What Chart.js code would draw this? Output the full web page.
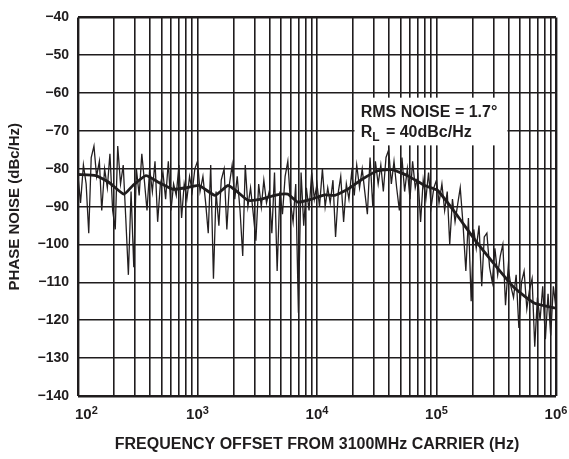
<!DOCTYPE html>
<html>
<head>
<meta charset="utf-8">
<script src="https://cdn.jsdelivr.net/npm/chart.js@4.4.1/dist/chart.umd.min.js"></script>
<style>
  html, body { margin: 0; padding: 0; background: #fff; }
  #wrap { width: 569px; height: 459px; }
</style>
</head>
<body>
<div id="wrap"><canvas id="noiseChart"></canvas></div>
<script>
// sweep points: mantissa within each decade
const sweepMantissa = [1.00, 1.05, 1.11, 1.17, 1.23, 1.29, 1.36, 1.43, 1.51, 1.58, 1.67, 1.76, 1.85, 1.95, 2.05,
  2.15, 2.27, 2.39, 2.51, 2.64, 2.78, 2.93, 3.08, 3.25, 3.42, 3.59, 3.78, 3.98, 4.19, 4.41,
  4.64, 4.89, 5.14, 5.41, 5.70, 6.00, 6.31, 6.64, 6.99, 7.36, 7.74, 8.15, 8.58, 9.03, 9.50];
const sweepDecades = [100, 1000, 10000, 100000];
const sweepEnd = 1000000;

// raw phase noise trace (dBc/Hz), one value per sweep point
const phaseNoise = [
  -82, -89, -79, -84, -97, -77, -74, -82, -78, -91, -80, -85, -76, -91, -96, -74, -84, -79, -93, -108, -86, -106, -80,
  -87, -76, -83, -91, -80, -86, -78, -94, -84, -81, -88, -78, -91, -84, -87, -79, -93, -84, -88, -82, -86, -80,
  -78, -86, -82, -89, -97, -79, -109, -86, -95, -83, -80, -96, -84, -79, -88, -82, -91, -103, -79, -90, -85, -92, -99,
  -84, -90, -83, -89, -86, -97, -81, -107, -86, -92, -82, -78, -89, -94, -84, -118, -81, -95, -85, -91, -81, -88,
  -84, -90, -80, -90, -85, -89, -83, -98, -86, -82, -94, -84, -88, -81, -87, -79, -85, -80, -86, -92, -77, -90, -78,
  -84, -79, -86, -77, -75, -84, -78, -85, -91, -77, -86, -80, -88, -78, -85, -82, -94, -83, -88, -81, -90, -85,
  -83, -89, -84, -91, -86, -100, -88, -94, -89, -85, -95, -107, -93, -115, -96, -101, -95, -111, -98, -97, -106, -110,
  -101, -108, -103, -100, -116, -106, -111, -114, -108, -122, -110, -107, -117, -112, -109, -127, -114, -120, -111,
  -125, -113, -124, -111, -117
];

// averaged trace
const smoothFreq = [100, 141, 182, 242, 288, 370, 475, 622, 800, 1030, 1400, 1800, 2180, 2640, 3450, 4440, 5700,
  6900, 9060, 11600, 14100, 18100, 23700, 32200, 42200, 57400, 79600, 102000, 142000, 209000, 307000, 451000,
  663000, 1000000];
const smoothLevel = [-81.5, -81.8, -83.6, -86.7, -84.4, -81.8, -83.6, -85.4, -85, -84.4, -87, -84.4, -86.2, -88.3,
  -88, -87, -86.7, -88.8, -88, -86.9, -87, -85.4, -82.8, -80.5, -80.2, -81.8, -84.4, -85.7, -91.4, -98.7, -105.3,
  -111.5, -115.5, -116.8];

const decadeTicks = [100, 1000, 10000, 100000, 1000000];
const decadeExponents = ['2', '3', '4', '5', '6'];
const minorSteps = [1, 2, 3, 4, 5, 6, 7, 8, 9];

const noteLines = ['RMS NOISE = 1.7°', '= 40dBc/Hz'];

const ink = '#1f1c1d';
const fontFamily = '"Liberation Sans", Arial, Helvetica, sans-serif';

const sweepFreq = [];
sweepDecades.forEach(d => sweepMantissa.forEach(m => sweepFreq.push(Math.round(m * d))));
sweepFreq.push(sweepEnd);

const gridValues = [];
sweepDecades.forEach(d => minorSteps.forEach(s => gridValues.push(s * d)));
gridValues.push(sweepEnd);

// x decade labels with raised exponent
const decadeLabels = {
  id: 'decadeLabels',
  afterDraw(chart) {
    const { ctx, chartArea, scales: { x } } = chart;
    const baseFont = 'bold 15px ' + fontFamily;
    const expFont = 'bold 11px ' + fontFamily;
    ctx.save();
    ctx.fillStyle = ink;
    decadeTicks.forEach((v, i) => {
      const px = x.getPixelForValue(v);
      ctx.font = baseFont;
      const wb = ctx.measureText('10').width;
      ctx.font = expFont;
      const we = ctx.measureText(decadeExponents[i]).width;
      let left = px - (wb + we) / 2;
      left = Math.max(left, chartArea.left - 3);
      left = Math.min(left, chart.width - wb - we - 1);
      const base = chartArea.bottom + 23;
      ctx.font = baseFont;
      ctx.fillText('10', left, base);
      ctx.font = expFont;
      ctx.fillText(decadeExponents[i], left + wb, base - 5);
    });
    ctx.restore();
  }
};

// white note box over the grid
const noteBox = {
  id: 'noteBox',
  beforeDatasetsDraw(chart) {
    const { ctx, scales: { x, y } } = chart;
    const l = x.getPixelForValue(20000) + 1.5;
    const r = x.getPixelForValue(400000) - 1;
    const t = y.getPixelForValue(-61.2);
    const b = y.getPixelForValue(-73.8);
    ctx.save();
    ctx.fillStyle = '#fff';
    ctx.fillRect(l, t, r - l, b - t);
    ctx.fillStyle = ink;
    ctx.textBaseline = 'alphabetic';
    const tx = x.getPixelForValue(23200);
    ctx.font = 'bold 16px ' + fontFamily;
    ctx.fillText(noteLines[0], tx, y.getPixelForValue(-66.4));
    const base2 = y.getPixelForValue(-71.6);
    ctx.fillText('R', tx, base2);
    const wr = ctx.measureText('R').width;
    ctx.font = 'bold 12px ' + fontFamily;
    ctx.fillText('L', tx + wr, base2 + 4);
    const wl = ctx.measureText('L ').width;
    ctx.font = 'bold 16px ' + fontFamily;
    ctx.fillText(noteLines[1], tx + wr + wl + 3, base2);
    ctx.restore();
  }
};

const edgeWidth = (ctx, a, b) => (ctx.tick && (ctx.tick.value === a || ctx.tick.value === b)) ? 2.4 : 1.6;

new Chart(document.getElementById('noiseChart'), {
  type: 'line',
  data: {
    datasets: [
      {
        label: 'averaged',
        data: smoothFreq.map((f, i) => ({ x: f, y: smoothLevel[i] })),
        borderColor: ink,
        borderWidth: 2.8,
        pointRadius: 0,
        tension: 0.15,
        order: 0
      },
      {
        label: 'raw',
        data: sweepFreq.map((f, i) => ({ x: f, y: phaseNoise[i] })),
        borderColor: '#231f20',
        borderWidth: 1.3,
        pointRadius: 0,
        tension: 0,
        order: 1
      }
    ]
  },
  options: {
    responsive: true,
    maintainAspectRatio: false,
    animation: false,
    layout: { padding: { top: 13, right: 13, left: 0, bottom: 0 } },
    plugins: { legend: { display: false }, tooltip: { enabled: false } },
    scales: {
      x: {
        type: 'logarithmic',
        min: 100,
        max: 1000000,
        afterBuildTicks: scale => { scale.ticks = gridValues.map(v => ({ value: v })); },
        afterFit: scale => { scale.height = 63; },
        ticks: { display: false },
        border: { display: false },
        grid: { color: ink, lineWidth: c => edgeWidth(c, 100, 1000000), drawTicks: false },
        title: {
          display: true,
          text: 'FREQUENCY OFFSET FROM 3100MHz CARRIER (Hz)',
          color: ink,
          font: { family: fontFamily, size: 16, weight: 'bold' },
          padding: { top: 0, bottom: 5 }
        }
      },
      y: {
        min: -140,
        max: -40,
        afterFit: scale => { scale.width = 78; },
        ticks: {
          stepSize: 10,
          color: ink,
          padding: 9,
          font: { family: fontFamily, size: 14, weight: 'bold' },
          callback: v => String(v).replace('-', '\u2212')
        },
        border: { display: false },
        grid: { color: ink, lineWidth: c => edgeWidth(c, -140, -40), drawTicks: false },
        title: {
          display: true,
          text: 'PHASE NOISE (dBc/Hz)',
          color: ink,
          font: { family: fontFamily, size: 15, weight: 'bold' },
          padding: { top: 6, bottom: 0 }
        }
      }
    }
  },
  plugins: [noteBox, decadeLabels]
});
</script>
</body>
</html>
